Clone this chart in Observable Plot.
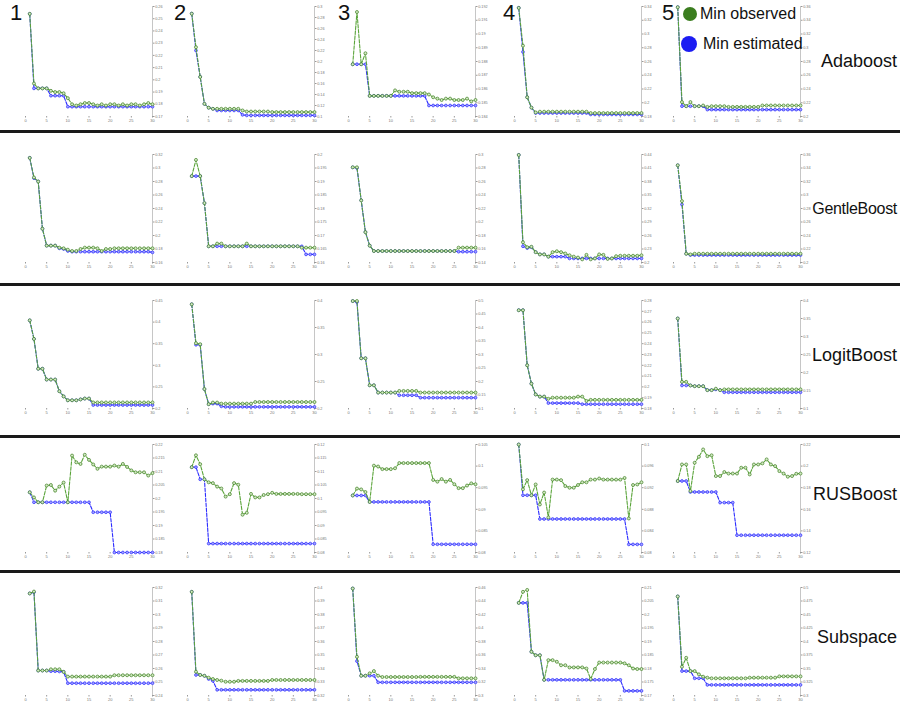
<!DOCTYPE html>
<html><head><meta charset="utf-8">
<script src="https://cdn.jsdelivr.net/npm/d3@7"></script>
<script src="https://cdn.jsdelivr.net/npm/@observablehq/plot@0.6"></script>
<style>
body{margin:0;background:#fff;}
#chart{position:relative;width:900px;height:702px;overflow:hidden;font-family:"Liberation Sans",Arial,sans-serif;color:#111;}
.panel{position:absolute;}
.panel svg{display:block;overflow:visible;}
.sep{position:absolute;left:0;width:900px;height:3px;background:#1a1a1a;}
.fold{position:absolute;top:0;font-size:22px;line-height:26px;}
.model{position:absolute;right:3px;font-size:18px;line-height:22px;transform:translateY(-50%);white-space:nowrap;}
.legdot{position:absolute;border-radius:50%;}
.legtxt{position:absolute;font-size:16px;line-height:20px;}
</style></head>
<body><div id="chart"></div>
<script>
// ---------- data ----------
const iterations = [1,2,3,4,5,6,7,8,9,10,11,12,13,14,15,16,17,18,19,20,21,22,23,24,25,26,27,28,29,30];
const models = ["Adaboost","GentleBoost","LogitBoost","RUSBoost","Subspace"];
const folds = ["1","2","3","4","5"];
const xTicks = [0,5,10,15,20,25,30];
const legendLabels = ["Min observed","Min estimated"];

const adaboostObserved = [
 [0.254,0.197,0.193,0.193,0.193,0.191,0.190,0.190,0.189,0.185, 0.180,0.179,0.180,0.181,0.181,0.180,0.179,0.180,0.179,0.180, 0.180,0.179,0.180,0.179,0.180,0.180,0.179,0.180,0.181,0.180],
 [0.287,0.226,0.172,0.123,0.116,0.114,0.114,0.114,0.114,0.114, 0.114,0.114,0.111,0.109,0.109,0.109,0.109,0.109,0.109,0.108, 0.108,0.108,0.108,0.108,0.108,0.108,0.108,0.108,0.108,0.108],
 [0.1878,0.1916,0.1878,0.1886,0.1855,0.1855,0.1855,0.1855,0.1855,0.1855, 0.1859,0.1858,0.1858,0.1858,0.1857,0.1857,0.1857,0.1857,0.1856,0.1854, 0.1853,0.1852,0.1853,0.1853,0.1852,0.1852,0.1852,0.1853,0.1851,0.1852],
 [0.338,0.283,0.208,0.193,0.186,0.187,0.187,0.187,0.187,0.187, 0.187,0.187,0.187,0.187,0.187,0.187,0.187,0.185,0.185,0.185, 0.185,0.185,0.185,0.185,0.185,0.185,0.185,0.185,0.185,0.185],
 [0.359,0.221,0.215,0.221,0.215,0.215,0.216,0.214,0.215,0.215, 0.215,0.215,0.214,0.214,0.214,0.214,0.214,0.214,0.214,0.214, 0.216,0.216,0.216,0.216,0.216,0.216,0.216,0.216,0.216,0.216]
];
const adaboostEstimated = [
 [0.254,0.193,0.193,0.193,0.193,0.187,0.187,0.187,0.187,0.178, 0.178,0.178,0.178,0.178,0.178,0.178,0.178,0.178,0.178,0.178, 0.178,0.178,0.178,0.178,0.178,0.178,0.178,0.178,0.178,0.178],
 [0.287,0.220,0.172,0.123,0.116,0.114,0.111,0.111,0.111,0.111, 0.111,0.111,0.103,0.102,0.102,0.102,0.102,0.102,0.102,0.102, 0.102,0.102,0.102,0.102,0.102,0.102,0.102,0.102,0.102,0.102],
 [0.1878,0.1878,0.1878,0.1878,0.1855,0.1855,0.1855,0.1855,0.1855,0.1855, 0.1855,0.1855,0.1855,0.1855,0.1855,0.1855,0.1855,0.1855,0.1848,0.1848, 0.1848,0.1848,0.1848,0.1848,0.1848,0.1848,0.1848,0.1848,0.1848,0.1848],
 [0.338,0.274,0.208,0.193,0.185,0.185,0.185,0.185,0.185,0.185, 0.185,0.185,0.185,0.185,0.185,0.185,0.185,0.183,0.183,0.183, 0.183,0.183,0.183,0.183,0.183,0.183,0.183,0.183,0.183,0.183],
 [0.359,0.215,0.215,0.215,0.215,0.215,0.215,0.210,0.210,0.210, 0.210,0.210,0.210,0.210,0.210,0.210,0.210,0.210,0.210,0.210, 0.210,0.210,0.210,0.210,0.210,0.210,0.210,0.210,0.210,0.210]
];
const adaboostDomains = [[0.17,0.26],[0.1,0.3],[0.184,0.192],[0.18,0.34],[0.2,0.36]];
const adaboostSteps = [0.01,0.02,0.001,0.02,0.02];

const gentleObserved = [
 [0.315,0.286,0.280,0.210,0.185,0.185,0.185,0.182,0.181,0.179, 0.177,0.177,0.180,0.182,0.182,0.182,0.181,0.177,0.180,0.180, 0.181,0.181,0.181,0.181,0.181,0.181,0.181,0.181,0.181,0.181],
 [0.192,0.198,0.192,0.182,0.166,0.166,0.167,0.167,0.166,0.166, 0.166,0.166,0.166,0.167,0.166,0.166,0.166,0.166,0.166,0.166, 0.166,0.166,0.166,0.166,0.166,0.166,0.1655,0.1655,0.1655,0.1655],
 [0.281,0.281,0.232,0.185,0.165,0.157,0.157,0.157,0.157,0.157, 0.157,0.157,0.157,0.157,0.157,0.157,0.157,0.157,0.157,0.157, 0.157,0.157,0.157,0.157,0.157,0.162,0.162,0.162,0.162,0.162],
 [0.439,0.245,0.234,0.235,0.223,0.218,0.218,0.213,0.223,0.225, 0.223,0.220,0.216,0.213,0.211,0.207,0.217,0.207,0.209,0.218, 0.217,0.208,0.209,0.214,0.215,0.215,0.215,0.215,0.215,0.216],
 [0.344,0.291,0.213,0.212,0.213,0.213,0.213,0.213,0.213,0.213, 0.213,0.213,0.213,0.213,0.213,0.213,0.213,0.213,0.213,0.213, 0.213,0.213,0.213,0.213,0.213,0.213,0.213,0.213,0.213,0.213]
];
const gentleEstimated = [
 [0.315,0.285,0.280,0.210,0.185,0.185,0.185,0.181,0.180,0.177, 0.176,0.176,0.176,0.176,0.176,0.176,0.176,0.176,0.176,0.176, 0.176,0.176,0.176,0.176,0.176,0.176,0.176,0.176,0.176,0.175],
 [0.192,0.192,0.192,0.182,0.166,0.166,0.166,0.166,0.166,0.166, 0.166,0.166,0.166,0.166,0.166,0.166,0.166,0.166,0.166,0.166, 0.166,0.166,0.166,0.166,0.166,0.166,0.166,0.163,0.163,0.163],
 [0.281,0.280,0.232,0.185,0.165,0.157,0.157,0.157,0.157,0.157, 0.157,0.157,0.157,0.157,0.157,0.157,0.157,0.157,0.157,0.157, 0.157,0.157,0.157,0.157,0.157,0.156,0.156,0.156,0.156,0.156],
 [0.439,0.236,0.232,0.234,0.223,0.218,0.218,0.213,0.213,0.213, 0.213,0.213,0.209,0.209,0.209,0.209,0.209,0.209,0.209,0.209, 0.209,0.209,0.209,0.209,0.209,0.209,0.209,0.209,0.209,0.209],
 [0.344,0.286,0.213,0.211,0.211,0.211,0.211,0.211,0.211,0.211, 0.211,0.211,0.211,0.211,0.211,0.211,0.211,0.211,0.211,0.211, 0.211,0.211,0.211,0.211,0.211,0.211,0.211,0.211,0.211,0.211]
];
const gentleDomains = [[0.16,0.32],[0.16,0.2],[0.14,0.3],[0.2,0.44],[0.2,0.36]];
const gentleSteps = [0.02,0.005,0.02,0.03,0.02];

const logitObserved = [
 [0.404,0.361,0.292,0.292,0.267,0.267,0.267,0.240,0.228,0.219, 0.219,0.219,0.221,0.223,0.223,0.214,0.214,0.214,0.214,0.214, 0.214,0.214,0.214,0.214,0.214,0.214,0.214,0.214,0.214,0.214],
 [0.393,0.321,0.319,0.236,0.208,0.211,0.211,0.209,0.209,0.209, 0.209,0.209,0.209,0.209,0.209,0.212,0.212,0.212,0.212,0.212, 0.212,0.212,0.212,0.212,0.212,0.212,0.212,0.212,0.212,0.212],
 [0.498,0.498,0.286,0.286,0.186,0.186,0.159,0.159,0.159,0.159, 0.159,0.165,0.165,0.165,0.165,0.165,0.159,0.159,0.159,0.159, 0.159,0.159,0.159,0.159,0.159,0.159,0.159,0.159,0.159,0.159],
 [0.271,0.271,0.220,0.203,0.193,0.191,0.191,0.189,0.190,0.190, 0.190,0.190,0.190,0.190,0.191,0.191,0.187,0.188,0.188,0.188, 0.188,0.188,0.188,0.188,0.188,0.188,0.188,0.188,0.188,0.188],
 [0.350,0.174,0.174,0.164,0.162,0.162,0.162,0.151,0.151,0.155, 0.151,0.153,0.153,0.153,0.153,0.153,0.153,0.153,0.153,0.153, 0.153,0.153,0.153,0.153,0.153,0.153,0.153,0.153,0.153,0.153]
];
const logitEstimated = [
 [0.404,0.361,0.292,0.292,0.267,0.267,0.267,0.240,0.228,0.219, 0.219,0.219,0.221,0.223,0.223,0.208,0.208,0.208,0.208,0.208, 0.208,0.208,0.208,0.208,0.208,0.208,0.208,0.208,0.208,0.208],
 [0.393,0.318,0.318,0.236,0.208,0.209,0.209,0.204,0.203,0.203, 0.203,0.203,0.203,0.203,0.203,0.203,0.203,0.203,0.203,0.203, 0.203,0.203,0.203,0.203,0.203,0.203,0.203,0.203,0.203,0.203],
 [0.498,0.494,0.286,0.286,0.186,0.186,0.159,0.159,0.159,0.159, 0.159,0.149,0.149,0.149,0.149,0.149,0.140,0.140,0.140,0.140, 0.140,0.140,0.140,0.140,0.140,0.140,0.140,0.140,0.140,0.140],
 [0.271,0.271,0.220,0.203,0.193,0.191,0.191,0.185,0.185,0.185, 0.185,0.185,0.185,0.185,0.185,0.184,0.184,0.184,0.184,0.184, 0.184,0.184,0.184,0.184,0.184,0.184,0.184,0.184,0.184,0.184],
 [0.350,0.164,0.164,0.164,0.162,0.162,0.162,0.151,0.151,0.153, 0.151,0.145,0.145,0.145,0.145,0.145,0.145,0.145,0.145,0.145, 0.145,0.145,0.145,0.145,0.145,0.145,0.145,0.145,0.145,0.145]
];
const logitDomains = [[0.2,0.45],[0.2,0.4],[0.1,0.5],[0.18,0.28],[0.1,0.4]];
const logitSteps = [0.05,0.05,0.05,0.01,0.05];

const rusObserved = [
 [0.2023,0.2004,0.1986,0.1986,0.2048,0.2050,0.2029,0.2044,0.2059,0.1986, 0.2159,0.2134,0.2128,0.2162,0.2143,0.2126,0.2110,0.2118,0.2118,0.2118, 0.2122,0.2118,0.2128,0.2117,0.2104,0.2097,0.2097,0.2097,0.2085,0.2094],
 [0.1116,0.1160,0.1127,0.1071,0.1060,0.1057,0.1044,0.1037,0.1007,0.1016, 0.1057,0.1051,0.0940,0.0947,0.1017,0.1004,0.1004,0.1013,0.1016,0.1021, 0.1017,0.1017,0.1017,0.1017,0.1017,0.1017,0.1016,0.1016,0.1016,0.1016],
 [0.0932,0.0948,0.0946,0.0940,0.0917,0.1001,0.0999,0.0993,0.0993,0.0993, 0.0995,0.1007,0.1007,0.1007,0.1007,0.1007,0.1007,0.1007,0.1007,0.0968, 0.0964,0.0970,0.0964,0.0968,0.0958,0.0949,0.0949,0.0955,0.0960,0.0958],
 [0.1000,0.0917,0.0934,0.0906,0.0926,0.0889,0.0911,0.0865,0.0935,0.0935, 0.0934,0.0923,0.0920,0.0920,0.0925,0.0930,0.0930,0.0935,0.0935,0.0937, 0.0935,0.0935,0.0935,0.0935,0.0935,0.0938,0.0863,0.0925,0.0926,0.0930],
 [0.1862,0.2015,0.2015,0.1769,0.2031,0.2086,0.2154,0.2092,0.2100,0.1908, 0.1908,0.1945,0.1931,0.1931,0.1931,0.1985,0.1985,0.1923,0.2015,0.2015, 0.2025,0.2062,0.2015,0.2000,0.1954,0.1931,0.1902,0.1908,0.1929,0.1931]
];
const rusEstimated = [
 [0.2023,0.1986,0.1986,0.1986,0.1986,0.1986,0.1986,0.1986,0.1986,0.1986, 0.1986,0.1986,0.1986,0.1986,0.1986,0.1949,0.1949,0.1949,0.1949,0.1949, 0.1800,0.1800,0.1800,0.1800,0.1800,0.1800,0.1800,0.1800,0.1800,0.1800],
 [0.1116,0.1116,0.1071,0.1071,0.0833,0.0833,0.0833,0.0833,0.0833,0.0833, 0.0833,0.0833,0.0833,0.0833,0.0833,0.0833,0.0833,0.0833,0.0833,0.0833, 0.0833,0.0833,0.0833,0.0833,0.0833,0.0833,0.0833,0.0833,0.0833,0.0833],
 [0.0932,0.0932,0.0932,0.0932,0.0917,0.0917,0.0917,0.0917,0.0917,0.0917, 0.0917,0.0917,0.0917,0.0917,0.0917,0.0917,0.0917,0.0917,0.0917,0.0819, 0.0819,0.0819,0.0819,0.0819,0.0819,0.0819,0.0819,0.0819,0.0819,0.0819],
 [0.1000,0.0906,0.0906,0.0906,0.0906,0.0862,0.0862,0.0862,0.0862,0.0862, 0.0862,0.0862,0.0862,0.0862,0.0862,0.0862,0.0862,0.0862,0.0862,0.0862, 0.0862,0.0862,0.0862,0.0862,0.0862,0.0862,0.0815,0.0815,0.0815,0.0815],
 [0.1862,0.1862,0.1862,0.1760,0.1760,0.1760,0.1760,0.1760,0.1760,0.1760, 0.1662,0.1662,0.1662,0.1662,0.1360,0.1360,0.1360,0.1360,0.1360,0.1360, 0.1360,0.1360,0.1360,0.1360,0.1360,0.1360,0.1360,0.1360,0.1360,0.1360]
];
const rusDomains = [[0.18,0.22],[0.08,0.12],[0.08,0.105],[0.08,0.1],[0.12,0.22]];
const rusSteps = [0.005,0.005,0.005,0.004,0.02];

const subspaceObserved = [
 [0.3156,0.3170,0.2585,0.2585,0.2585,0.2594,0.2594,0.2594,0.2575,0.2540, 0.2540,0.2540,0.2540,0.2540,0.2540,0.2540,0.2540,0.2540,0.2540,0.2540, 0.2550,0.2550,0.2550,0.2550,0.2550,0.2550,0.2550,0.2550,0.2550,0.2550],
 [0.3968,0.3376,0.3352,0.3346,0.3332,0.3322,0.3315,0.3310,0.3302,0.3302, 0.3302,0.3308,0.3308,0.3308,0.3308,0.3308,0.3308,0.3308,0.3308,0.3315, 0.3315,0.3315,0.3315,0.3315,0.3315,0.3315,0.3315,0.3315,0.3315,0.3315],
 [0.4585,0.3573,0.3293,0.3293,0.3328,0.3362,0.3293,0.3274,0.3274,0.3274, 0.3274,0.3274,0.3274,0.3274,0.3274,0.3274,0.3276,0.3276,0.3276,0.3276, 0.3276,0.3276,0.3276,0.3276,0.3276,0.3254,0.3254,0.3254,0.3254,0.3254],
 [0.2043,0.2084,0.2091,0.1862,0.1849,0.1849,0.1758,0.1831,0.1831,0.1825, 0.1812,0.1812,0.1804,0.1804,0.1804,0.1804,0.1800,0.1761,0.1798,0.1822, 0.1822,0.1822,0.1822,0.1822,0.1822,0.1819,0.1812,0.1800,0.1798,0.1798],
 [0.4834,0.3532,0.3698,0.3452,0.3452,0.3392,0.3348,0.3330,0.3318,0.3318, 0.3318,0.3318,0.3318,0.3318,0.3318,0.3318,0.3318,0.3330,0.3330,0.3330, 0.3330,0.3330,0.3330,0.3330,0.3354,0.3354,0.3354,0.3354,0.3354,0.3354]
];
const subspaceEstimated = [
 [0.3156,0.3165,0.2585,0.2585,0.2585,0.2580,0.2580,0.2578,0.2575,0.2491, 0.2491,0.2491,0.2491,0.2491,0.2491,0.2491,0.2491,0.2491,0.2491,0.2491, 0.2491,0.2491,0.2491,0.2491,0.2491,0.2491,0.2491,0.2491,0.2491,0.2491],
 [0.3968,0.3352,0.3352,0.3346,0.3322,0.3308,0.3242,0.3242,0.3242,0.3242, 0.3242,0.3242,0.3242,0.3242,0.3242,0.3242,0.3242,0.3242,0.3242,0.3242, 0.3242,0.3242,0.3242,0.3242,0.3242,0.3242,0.3242,0.3242,0.3242,0.3242],
 [0.4585,0.3509,0.3293,0.3293,0.3293,0.3293,0.3195,0.3195,0.3195,0.3195, 0.3195,0.3195,0.3195,0.3195,0.3195,0.3195,0.3195,0.3195,0.3195,0.3195, 0.3195,0.3195,0.3195,0.3195,0.3195,0.3195,0.3195,0.3195,0.3195,0.3195],
 [0.2043,0.2043,0.2043,0.1862,0.1849,0.1849,0.1758,0.1758,0.1758,0.1758, 0.1758,0.1758,0.1758,0.1758,0.1758,0.1758,0.1758,0.1758,0.1758,0.1758, 0.1758,0.1758,0.1758,0.1758,0.1758,0.1717,0.1717,0.1717,0.1717,0.1717],
 [0.4834,0.3452,0.3452,0.3452,0.3318,0.3318,0.3318,0.3196,0.3196,0.3196, 0.3196,0.3196,0.3196,0.3196,0.3196,0.3196,0.3196,0.3196,0.3196,0.3196, 0.3196,0.3196,0.3196,0.3196,0.3196,0.3196,0.3196,0.3196,0.3196,0.3196]
];
const subspaceDomains = [[0.24,0.32],[0.32,0.4],[0.3,0.46],[0.17,0.21],[0.3,0.5]];
const subspaceSteps = [0.01,0.01,0.02,0.005,0.025];

// ---------- layout / style ----------
const observedByModel = [adaboostObserved, gentleObserved, logitObserved, rusObserved, subspaceObserved];
const estimatedByModel = [adaboostEstimated, gentleEstimated, logitEstimated, rusEstimated, subspaceEstimated];
const domainsByModel = [adaboostDomains, gentleDomains, logitDomains, rusDomains, subspaceDomains];
const stepsByModel = [adaboostSteps, gentleSteps, logitSteps, rusSteps, subspaceSteps];

const colLeft = [25, 187, 348, 514, 673];
const rowTop = [6, 154, 300, 444, 587];
const rowPlotH = [110, 108, 108, 108, 108];
const labelY = [61, 209, 355, 494, 637];
const labelSize = [18, 16, 18, 18, 18];
const labelSpacing = [0, -0.3, 0, 0, 0];
const sepY = [130, 283, 435, 570];
const foldX = [10, 174, 338, 503, 662];
const plotW = 127, mL = 4, mR = 30, mT = 5, mB = 10;
const GREEN_LINE = "#5aa43a", GREEN_DOT = "#3f7f22", BLUE = "#2b2bff";

const chart = document.getElementById("chart");
const fmt = d => String(+d.toFixed(4));

models.forEach((model, r) => {
  folds.forEach((fold, c) => {
    const obs = observedByModel[r][c], est = estimatedByModel[r][c];
    const [lo, hi] = domainsByModel[r][c];
    const step = stepsByModel[r][c];
    const n = Math.round((hi - lo) / step);
    const yTicks = d3.range(n + 1).map(k => +(lo + k * step).toFixed(5));
    const rows = iterations.map((it, i) => ({iter: it, observed: obs[i], estimated: est[i]}));
    const svg = Plot.plot({
      width: plotW + mL + mR, height: rowPlotH[r] + mT + mB,
      marginLeft: mL, marginRight: mR, marginTop: mT, marginBottom: mB,
      style: {background: "transparent", fontFamily: "Liberation Sans, Arial, sans-serif"},
      x: {domain: [0, 30], label: null},
      y: {domain: [lo, hi], label: null},
      marks: [
        Plot.ruleX([30], {stroke: "#b8b8b8", strokeWidth: 0.8}),
        Plot.axisX({ticks: xTicks, tickSize: 1.5, tickPadding: 1, fontSize: 4, fill: "#777", stroke: "#999", label: null}),
        Plot.axisY({anchor: "right", ticks: yTicks, tickSize: 1.5, tickPadding: 1.2, fontSize: 3.8, fill: "#777", stroke: "#999", tickFormat: fmt, label: null}),
        Plot.line(rows, {x: "iter", y: "estimated", stroke: BLUE, strokeWidth: 1.1, strokeDasharray: "3.5,1.5"}),
        Plot.dot(rows, {x: "iter", y: "estimated", r: 1.4, stroke: BLUE, strokeWidth: 0.7, fill: "#a5a5ff"}),
        Plot.line(rows, {x: "iter", y: "observed", stroke: GREEN_LINE, strokeWidth: 1.1, strokeDasharray: "3.5,1.5"}),
        Plot.dot(rows, {x: "iter", y: "observed", r: 1.5, stroke: GREEN_DOT, strokeWidth: 0.7, fill: "#d3e9c4"})
      ]
    });
    const wrap = document.createElement("div");
    wrap.className = "panel";
    wrap.style.left = (colLeft[c] - mL) + "px";
    wrap.style.top = (rowTop[r] - mT) + "px";
    wrap.appendChild(svg);
    chart.appendChild(wrap);
  });
  const lab = document.createElement("div");
  lab.className = "model";
  lab.style.top = labelY[r] + "px";
  lab.style.fontSize = labelSize[r] + "px";
  lab.style.letterSpacing = labelSpacing[r] + "px";
  lab.textContent = model;
  chart.appendChild(lab);
});

sepY.forEach(y => {
  const s = document.createElement("div");
  s.className = "sep";
  s.style.top = y + "px";
  chart.appendChild(s);
});

folds.forEach((f, c) => {
  const d = document.createElement("div");
  d.className = "fold";
  d.style.left = foldX[c] + "px";
  d.textContent = f;
  chart.appendChild(d);
});

// legend
const legColors = ["#3b7d1f", "#1c1cf2"];
const legDot = [[683, 7, 14], [681, 36, 16]];
const legTxt = [[700, 4], [703, 34]];
legendLabels.forEach((t, i) => {
  const dot = document.createElement("div");
  dot.className = "legdot";
  dot.style.left = legDot[i][0] + "px";
  dot.style.top = legDot[i][1] + "px";
  dot.style.width = dot.style.height = legDot[i][2] + "px";
  dot.style.background = legColors[i];
  chart.appendChild(dot);
  const tx = document.createElement("div");
  tx.className = "legtxt";
  tx.style.left = legTxt[i][0] + "px";
  tx.style.top = legTxt[i][1] + "px";
  tx.textContent = t;
  chart.appendChild(tx);
});
</script></body></html>
